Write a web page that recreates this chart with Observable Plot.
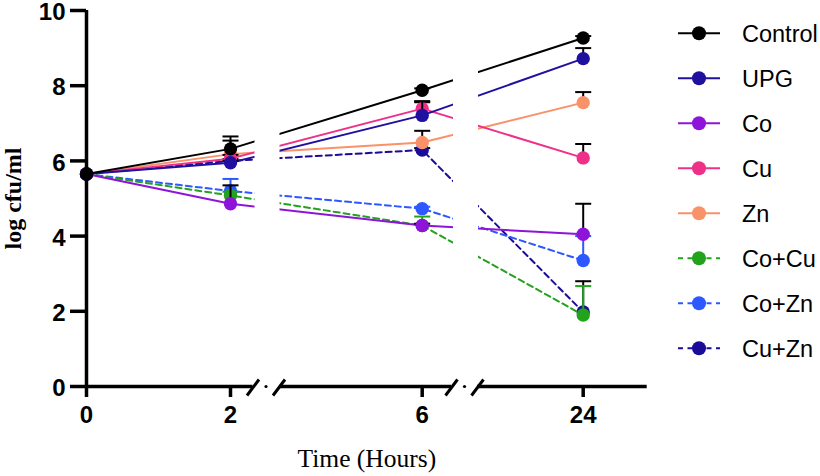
<!DOCTYPE html>
<html><head><meta charset="utf-8">
<script src="https://cdn.jsdelivr.net/npm/d3@7"></script>
<script src="https://cdn.jsdelivr.net/npm/@observablehq/plot@0.6"></script>
<style>body{margin:0;background:#fff}#chart{position:relative;width:820px;height:476px}</style>
</head><body><div id="chart"></div>
<script>
// ---- data ----
const times = [0, 2, 6, 24];
const timeLabels = ["0", "2", "6", "24"];
const yTicks = [0, 2, 4, 6, 8, 10];
const seriesNames = ["Control", "UPG", "Co", "Cu", "Zn", "Co+Cu", "Co+Zn", "Cu+Zn"];
const controlVals = [5.65, 6.32, 7.88, 9.27];
const upgVals     = [5.65, 5.95, 7.21, 8.72];
const coVals      = [5.65, 4.86, 4.28, 4.05];
const cuVals      = [5.65, 6.06, 7.39, 6.08];
const znVals      = [5.65, 6.18, 6.49, 7.55];
const coCuVals    = [5.65, 5.08, 4.28, 1.90];
const coZnVals    = [5.65, 5.20, 4.73, 3.35];
const cuZnVals    = [5.65, 6.00, 6.29, 1.98];
const controlErr = [0, 0.33, 0.05, 0.05];
const upgErr     = [0, 0.05, 0.38, 0.28];
const coErr      = [0, 0.49, 0.05, 0.81];
const cuErr      = [0, 0.10, 0.17, 0.37];
const znErr      = [0, 0.36, 0.31, 0.28];
const coCuErr    = [0, 0.10, 0.24, 0.77];
const coZnErr    = [0, 0.32, 0.05, 0.65];
const cuZnErr    = [0, 0.05, 0.05, 0.82];

// ---- styles ----
const seriesColors = ["#000000", "#20109f", "#8e14d9", "#ee3088", "#f99268", "#23a21c", "#2e58ff", "#1a0c98"];
const errColors    = ["#000000", "#000000", "#000000", "#000000", "#000000", "#23a21c", "#2e58ff", "#000000"];
const dashedSeries = [false, false, false, false, false, true, true, true];

const allVals = [controlVals, upgVals, coVals, cuVals, znVals, coCuVals, coZnVals, cuZnVals];
const allErr = [controlErr, upgErr, coErr, cuErr, znErr, coCuErr, coZnErr, cuZnErr];

const rows = [];
seriesNames.forEach((s, i) => times.forEach((t, j) => rows.push({series: s, idx: i, time: t, value: allVals[i][j], err: allErr[i][j]})));

// ---- broken x scale (piecewise) ----
const xDomain = [0, 2, 6, 24, 30];
const xRange = [86, 230, 421.7, 582.7, 646.7];
const xPos = d3.scaleLinear().domain(xDomain).range(xRange);
const breakPx = [265.5, 464];
const axisSegs = [
  {a: xDomain[0], b: xPos.invert(breakPx[0] - 13)},
  {a: xPos.invert(breakPx[0] + 14), b: xPos.invert(breakPx[1] - 13)},
  {a: xPos.invert(breakPx[1] + 13), b: xDomain[4]}
];
const masks = breakPx.map(p => ({a: xPos.invert(p - 11), b: xPos.invert(p + 14)}));
const breaks = breakPx.map(p => xPos.invert(p));

const capSymbol = {draw(ctx, size) { const r = Math.sqrt(size / Math.PI); ctx.moveTo(-r, 0); ctx.lineTo(r, 0); }};
const slashSymbol = {draw(ctx) { ctx.moveTo(-6, 9); ctx.lineTo(6, -7); }};
const font = "Liberation Sans, Arial, sans-serif";
const serif = "Liberation Serif, Times New Roman, serif";

const marks = [];
[...seriesNames.keys()].reverse().forEach(i => {
  const d = rows.filter(r => r.idx === i);
  const e = d.filter(r => r.err > 0);
  marks.push(Plot.line(d, {x: "time", y: "value", stroke: seriesColors[i], strokeWidth: 2, strokeDasharray: dashedSeries[i] ? "6,4" : null}));
  marks.push(Plot.ruleX(e, {x: "time", y1: "value", y2: r => r.value + r.err, stroke: errColors[i], strokeWidth: 2}));
  marks.push(Plot.dot(e, {x: "time", y: r => r.value + r.err, symbol: capSymbol, r: 8, stroke: errColors[i], strokeWidth: 2, fill: "none"}));
  marks.push(Plot.dot(d, {x: "time", y: "value", r: 6.7, fill: seriesColors[i], stroke: "none"}));
});
marks.push(Plot.rect(masks, {x1: "a", x2: "b", y1: 0.15, y2: 10.3, fill: "white"}));
// axes
marks.push(Plot.ruleX([0], {y1: 0, y2: 10, stroke: "black", strokeWidth: 3.5}));
marks.push(Plot.ruleY(axisSegs, {x1: "a", x2: "b", y: 0, stroke: "black", strokeWidth: 3.5}));
marks.push(Plot.dot(breaks, {x: b => b, y: 0, dx: -13, symbol: slashSymbol, r: 1, stroke: "black", strokeWidth: 3}));
marks.push(Plot.dot(breaks, {x: b => b, y: 0, dx: 13, symbol: slashSymbol, r: 1, stroke: "black", strokeWidth: 3}));
marks.push(Plot.dot(breaks, {x: b => b, y: 0, r: 1.6, fill: "black", stroke: "none"}));
marks.push(Plot.axisY({ticks: yTicks, tickSize: 16, strokeWidth: 3.5, tickFormat: () => "", label: null}));
marks.push(Plot.axisY({ticks: yTicks, tickSize: 0, tickPadding: 21, dy: 2, fontSize: 24, fontWeight: "bold", fontFamily: font, label: null}));
marks.push(Plot.axisX({ticks: times, tickFormat: (d) => timeLabels[times.indexOf(d)], tickSize: 11, tickPadding: 8, strokeWidth: 3.5, fontSize: 24, fontWeight: "bold", fontFamily: font, label: null}));
marks.push(Plot.text(["log cfu/ml"], {frameAnchor: "left", textAnchor: "middle", dx: -73, rotate: -90, fontSize: 24, fontWeight: "bold", fontFamily: serif, fill: "black"}));
marks.push(Plot.text(["Time (Hours)"], {frameAnchor: "bottom", dy: 80, fontSize: 25.5, fontFamily: serif, fill: "black"}));

const plot = Plot.plot({
  width: 820, height: 476,
  marginLeft: 86, marginRight: 173.3, marginTop: 10, marginBottom: 90,
  x: {type: "linear", domain: xDomain, range: xRange},
  y: {domain: [0, 10], range: [386, 10]},
  style: {fontFamily: font, background: "white", overflow: "visible"},
  marks
});
document.getElementById("chart").appendChild(plot);

// ---- legend ----
const svg = d3.select(plot);
const lg = svg.append("g").attr("class", "legend");
seriesNames.forEach((s, i) => {
  const y = 33.3 + 45 * i;
  lg.append("line").attr("x1", 678).attr("x2", 720).attr("y1", y).attr("y2", y)
    .attr("stroke", seriesColors[i]).attr("stroke-width", 2)
    .attr("stroke-dasharray", dashedSeries[i] ? "5,4.5" : null);
  lg.append("circle").attr("cx", 699).attr("cy", y).attr("r", 7).attr("fill", seriesColors[i]);
  lg.append("text").attr("x", 742).attr("y", y + 8.4).attr("font-size", 23.5)
    .attr("text-anchor", "start")
    .attr("font-family", font).attr("fill", "black").text(s);
});
</script></body></html>
